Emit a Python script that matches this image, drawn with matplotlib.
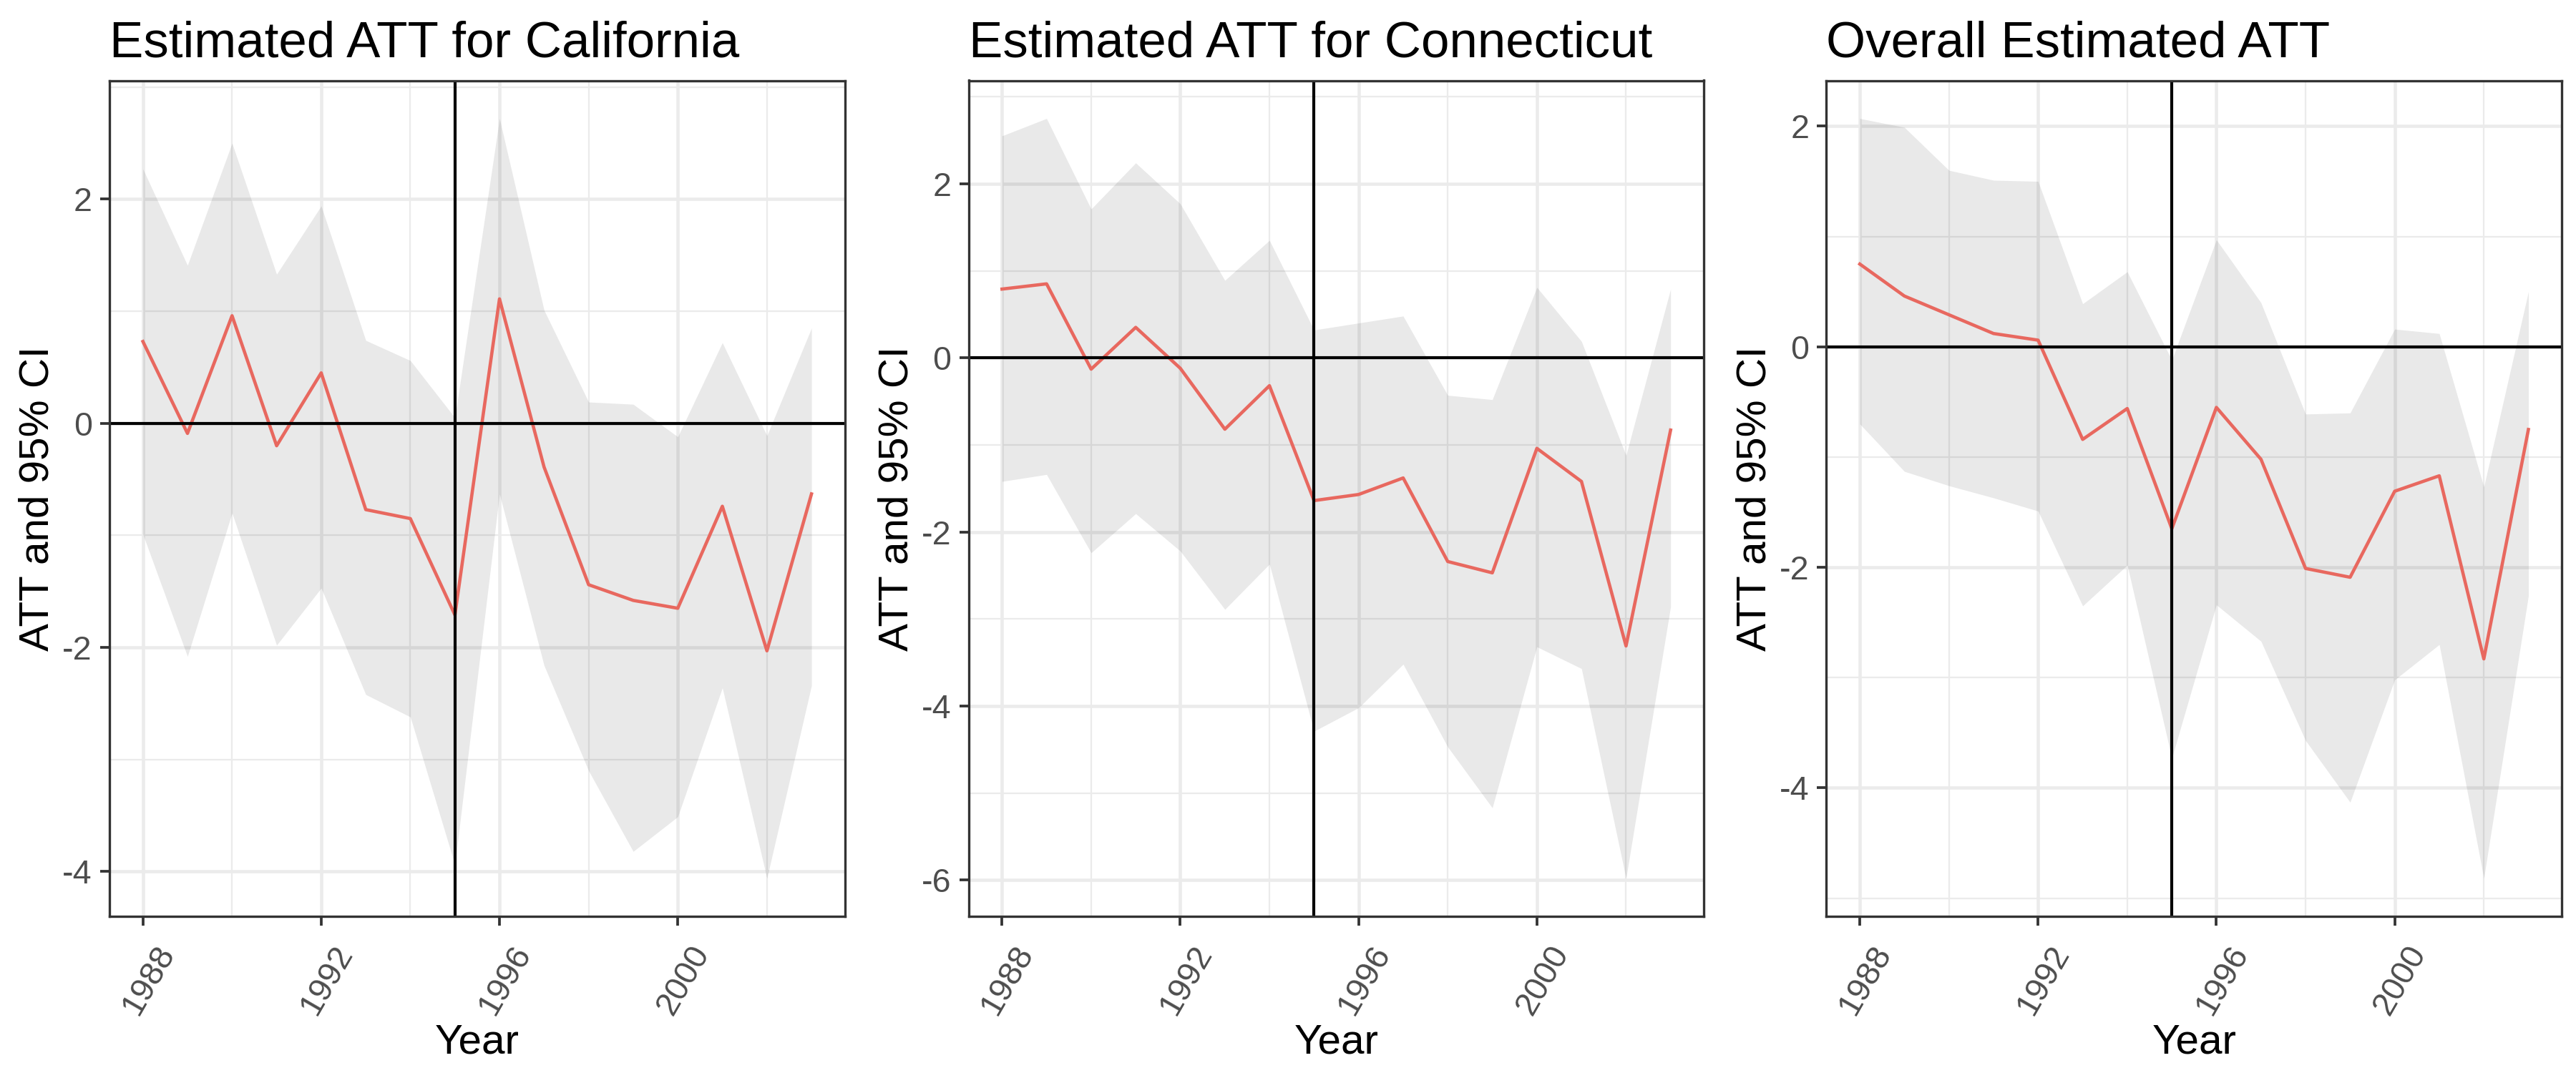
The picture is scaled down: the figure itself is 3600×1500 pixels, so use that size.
import matplotlib
matplotlib.use("Agg")
import matplotlib.pyplot as plt
import matplotlib.transforms as mtransforms
from matplotlib.ticker import MultipleLocator

plt.rcParams["font.family"] = ["Liberation Sans", "DejaVu Sans"]
plt.rcParams["axes.unicode_minus"] = False

years = list(range(1988, 2004))

# California
ca_att = [0.73, -0.09, 0.96, -0.20, 0.45, -0.77, -0.85, -1.71,
          1.11, -0.39, -1.44, -1.58, -1.65, -0.74, -2.03, -0.63]
ca_hi = [2.27, 1.41, 2.50, 1.33, 1.94, 0.74, 0.56, 0.05,
         2.72, 1.01, 0.19, 0.17, -0.12, 0.72, -0.11, 0.85]
ca_lo = [-0.99, -2.08, -0.80, -1.98, -1.47, -2.42, -2.62, -3.94,
         -0.63, -2.16, -3.10, -3.82, -3.51, -2.36, -4.06, -2.34]

# Connecticut
ct_att = [0.79, 0.85, -0.13, 0.35, -0.12, -0.82, -0.32, -1.64,
          -1.57, -1.38, -2.34, -2.47, -1.04, -1.42, -3.31, -0.83]
ct_hi = [2.55, 2.75, 1.71, 2.24, 1.77, 0.89, 1.35, 0.32,
         0.40, 0.48, -0.43, -0.48, 0.81, 0.19, -1.12, 0.79]
ct_lo = [-1.42, -1.34, -2.24, -1.79, -2.22, -2.89, -2.37, -4.29,
         -4.02, -3.52, -4.47, -5.17, -3.32, -3.57, -5.98, -2.86]

# Overall
ov_att = [0.75, 0.46, 0.29, 0.12, 0.06, -0.84, -0.56, -1.65,
          -0.55, -1.02, -2.01, -2.09, -1.31, -1.17, -2.83, -0.75]
ov_hi = [2.07, 1.99, 1.60, 1.51, 1.50, 0.39, 0.68, -0.12,
         0.97, 0.40, -0.61, -0.60, 0.16, 0.12, -1.27, 0.50]
ov_lo = [-0.70, -1.13, -1.26, -1.37, -1.49, -2.35, -1.98, -3.73,
         -2.34, -2.67, -3.57, -4.13, -3.02, -2.70, -4.82, -2.26]

titles = ["Estimated ATT for California", "Estimated ATT for Connecticut",
          "Overall Estimated ATT"]
panels = [(ca_att, ca_lo, ca_hi), (ct_att, ct_lo, ct_hi), (ov_att, ov_lo, ov_hi)]
treat_year = 1995

fig = plt.figure(figsize=(12, 5), dpi=300)
lefts = [0.0425, 0.376, 0.709]
width = 0.2855
bottom, top = 0.146, 0.925

# small shift of the rotated year labels, like ggplot's hjust=1
shift = mtransforms.ScaledTranslation(3.6 / 72, 0, fig.dpi_scale_trans)

for left, title, (att, lo, hi) in zip(lefts, titles, panels):
    ax = fig.add_axes([left, bottom, width, top - bottom])
    ax.set_axisbelow(True)
    ax.fill_between(years, lo, hi, color="black", alpha=0.085, linewidth=0)
    ax.plot(years, att, color="#E8685F", linewidth=1.1)
    ax.axvline(treat_year, color="black", linewidth=1.0)
    ax.axhline(0, color="black", linewidth=1.0)

    ax.margins(x=0.05, y=0.05)
    ax.xaxis.set_major_locator(MultipleLocator(4))
    ax.xaxis.set_minor_locator(MultipleLocator(2))
    ax.yaxis.set_major_locator(MultipleLocator(2))
    ax.yaxis.set_minor_locator(MultipleLocator(1))
    ax.grid(which="major", color="#EBEBEB", linewidth=1.1)
    ax.grid(which="minor", color="#EBEBEB", linewidth=0.55)

    ax.tick_params(which="major", length=3.2, width=0.9, color="#333333",
                   labelcolor="#4D4D4D", labelsize=11.2)
    ax.tick_params(axis="y", pad=2.6)
    ax.tick_params(axis="x", pad=4.7)
    ax.tick_params(which="minor", length=0)
    for lab in ax.get_xticklabels():
        lab.set_rotation(60)
        lab.set_ha("right")
        lab.set_va("top")
        lab.set_rotation_mode("anchor")
        lab.set_transform(lab.get_transform() + shift)
    for s in ax.spines.values():
        s.set_color("#333333")
        s.set_linewidth(0.8)

    ax.set_title(title, loc="left", fontsize=17, pad=8)
    ax.set_xlabel("Year", fontsize=14, labelpad=1)
    ax.set_ylabel("ATT and 95% CI", fontsize=14, labelpad=1.8)

fig.savefig("out.png", dpi=300, facecolor="white")
